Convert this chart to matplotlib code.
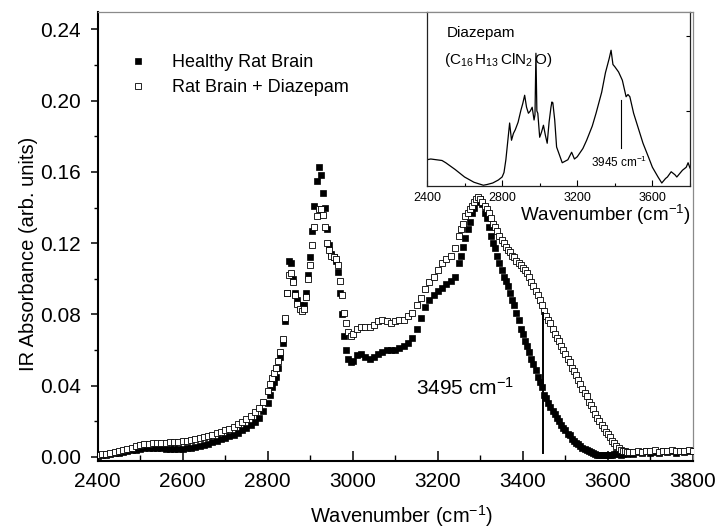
import numpy as np
import matplotlib
matplotlib.use("Agg")
import matplotlib.pyplot as plt
from matplotlib.ticker import MultipleLocator

plt.rcParams['font.family'] = ['Liberation Sans', 'DejaVu Sans']
plt.rcParams['mathtext.fontset'] = 'custom'
plt.rcParams['mathtext.rm'] = 'Liberation Sans'
plt.rcParams['mathtext.it'] = 'Liberation Sans:italic'

# ---------------- data (main) ----------------
wavenumber = np.concatenate([
    np.arange(2400, 2800, 10),   # 40
    np.arange(2800, 3005, 5),    # 41
    np.arange(3010, 3250, 10),   # 24
    np.arange(3250, 3655, 5),    # 81
    np.arange(3660, 3810, 10),   # 15
])

healthy = [
    0.0005, 0.0008, 0.0012, 0.0016, 0.0020, 0.0024, 0.0028, 0.0032, 0.0036, 0.0040,
    0.0043, 0.0047, 0.0050, 0.0052, 0.0052, 0.0050, 0.0046, 0.0043, 0.0042, 0.0042,
    0.0044, 0.0047, 0.0051, 0.0056, 0.0061, 0.0067, 0.0074, 0.0082, 0.0090, 0.0098,
    0.0106, 0.0115, 0.0125, 0.0136, 0.0148, 0.0162, 0.0178, 0.0197, 0.0220, 0.0255,
    # 2800-3000 step 5
    0.030, 0.035, 0.039, 0.042, 0.045, 0.050, 0.056, 0.064, 0.076, 0.092,
    0.110, 0.109, 0.100, 0.092, 0.088, 0.085, 0.084, 0.085, 0.092, 0.102,
    0.112, 0.127, 0.141, 0.155, 0.163, 0.158, 0.148, 0.140, 0.128, 0.119,
    0.114, 0.112, 0.110, 0.104, 0.092, 0.080, 0.068, 0.060, 0.055, 0.053,
    0.054,
    # 3010-3240 step 10
    0.057, 0.058, 0.056, 0.055, 0.056, 0.058, 0.059, 0.060, 0.060, 0.060,
    0.061, 0.062, 0.064, 0.067, 0.072, 0.078, 0.084, 0.088, 0.091, 0.093,
    0.095, 0.097, 0.099, 0.101,
    # 3250-3650 step 5
    0.109, 0.113, 0.118, 0.123, 0.128, 0.132, 0.137, 0.140, 0.143, 0.145,
    0.145, 0.142, 0.137, 0.134, 0.129, 0.124, 0.120, 0.117, 0.113, 0.109,
    0.105, 0.101, 0.099, 0.096, 0.092, 0.088, 0.085, 0.081, 0.077, 0.072,
    0.069, 0.065, 0.062, 0.059, 0.055, 0.052, 0.049, 0.045, 0.042, 0.039,
    0.035, 0.033, 0.030, 0.028, 0.026, 0.024, 0.022, 0.020, 0.018, 0.016,
    0.015, 0.013, 0.012, 0.010, 0.009, 0.008, 0.007, 0.006, 0.005, 0.0045,
    0.0040, 0.0030, 0.0025, 0.0020, 0.0015, 0.0010, 0.0010, 0.0008, 0.0008, 0.0010,
    0.0010, 0.0012, 0.0010, 0.0015, 0.0020, 0.0015, 0.0010, 0.0015, 0.0020, 0.0018,
    0.0022,
    # 3660-3800 step 10
    0.0018, 0.0025, 0.0020, 0.0030, 0.0022, 0.0028, 0.0020, 0.0030, 0.0025, 0.0032,
    0.0022, 0.0030, 0.0025, 0.0035, 0.0030,
]

diazepam = [
    0.0010, 0.0014, 0.0018, 0.0023, 0.0028, 0.0033, 0.0039, 0.0045, 0.0052, 0.0059,
    0.0065, 0.0070, 0.0074, 0.0077, 0.0079, 0.0080, 0.0080, 0.0081, 0.0082, 0.0084,
    0.0087, 0.0090, 0.0094, 0.0099, 0.0104, 0.0110, 0.0117, 0.0124, 0.0132, 0.0140,
    0.0149, 0.0159, 0.0170, 0.0182, 0.0196, 0.0212, 0.0230, 0.0250, 0.0275, 0.0310,
    # 2800-3000 step 5
    0.037, 0.041, 0.044, 0.047, 0.050, 0.054, 0.059, 0.066, 0.078, 0.092,
    0.102, 0.103, 0.098, 0.091, 0.086, 0.083, 0.082, 0.083, 0.090, 0.100,
    0.108, 0.119, 0.129, 0.135, 0.139, 0.139, 0.136, 0.129, 0.120, 0.116,
    0.113, 0.112, 0.111, 0.108, 0.099, 0.091, 0.081, 0.075, 0.070, 0.068,
    0.069,
    # 3010-3240 step 10
    0.072, 0.073, 0.073, 0.073, 0.074, 0.076, 0.077, 0.076, 0.075, 0.076,
    0.077, 0.077, 0.079, 0.081, 0.085, 0.089, 0.094, 0.098, 0.101, 0.105,
    0.109, 0.111, 0.113, 0.117,
    # 3250-3650 step 5
    0.124, 0.128, 0.131, 0.135, 0.137, 0.139, 0.141, 0.143, 0.145, 0.146,
    0.145, 0.143, 0.141, 0.139, 0.137, 0.134, 0.131, 0.129, 0.127, 0.124,
    0.122, 0.120, 0.118, 0.116, 0.115, 0.113, 0.112, 0.110, 0.109, 0.108,
    0.106, 0.105, 0.103, 0.101, 0.098, 0.096, 0.093, 0.091, 0.088, 0.085,
    0.082, 0.079, 0.077, 0.075, 0.072, 0.069, 0.067, 0.065, 0.062, 0.060,
    0.058, 0.055, 0.053, 0.050, 0.048, 0.046, 0.043, 0.041, 0.038, 0.036,
    0.034, 0.031, 0.029, 0.027, 0.024, 0.022, 0.020, 0.018, 0.016, 0.014,
    0.013, 0.011, 0.009, 0.0075, 0.006, 0.005, 0.004, 0.0035, 0.003, 0.0028,
    0.0027,
    # 3660-3800 step 10
    0.0028, 0.0032, 0.0026, 0.0034, 0.0030, 0.0036, 0.0028, 0.0034, 0.0030, 0.0038,
    0.0030, 0.0035, 0.0032, 0.0040, 0.0035,
]

series_labels = ["Healthy Rat Brain", "Rat Brain + Diazepam"]
x_ticks = [2400, 2600, 2800, 3000, 3200, 3400, 3600, 3800]
y_ticks = [0.00, 0.04, 0.08, 0.12, 0.16, 0.20, 0.24]

# ---------------- data (inset: Diazepam) ----------------
inset_wn = [2400, 2420, 2450, 2480, 2500, 2550, 2600, 2650, 2700, 2720, 2750, 2780, 2800,
            2810, 2820, 2840, 2850, 2860, 2870, 2885, 2900, 2910, 2920, 2930, 2940, 2950,
            2960, 2970, 2975, 2980, 2985, 2990, 3000, 3010, 3020, 3030, 3040, 3050, 3060,
            3065, 3070, 3080, 3090, 3100, 3120, 3150, 3170, 3185, 3200, 3230, 3250, 3280,
            3300, 3330, 3350, 3370, 3380, 3390, 3400, 3420, 3440, 3450, 3460, 3470, 3480,
            3500, 3520, 3550, 3580, 3600, 3630, 3650, 3670, 3680, 3700, 3720, 3730, 3760,
            3780, 3790, 3800]
inset_abs = [0.35, 0.36, 0.35, 0.34, 0.31, 0.22, 0.12, 0.05, 0.01, 0.02, 0.04, 0.08, 0.12,
             0.18, 0.35, 0.84, 0.61, 0.70, 0.75, 0.85, 1.01, 1.10, 1.21, 1.05, 0.97, 1.00,
             1.05, 0.88, 0.95, 1.77, 1.00, 0.97, 0.65, 0.72, 0.81, 0.68, 0.57, 0.85, 1.05,
             1.12, 1.11, 0.88, 0.52, 0.45, 0.31, 0.35, 0.45, 0.36, 0.39, 0.50, 0.61, 0.80,
             0.97, 1.25, 1.51, 1.70, 1.81, 1.62, 1.59, 1.52, 1.41, 1.30, 1.19, 1.22, 1.19,
             0.97, 0.81, 0.57, 0.38, 0.25, 0.12, 0.04, 0.10, 0.12, 0.19, 0.15, 0.12, 0.21,
             0.25, 0.31, 0.24]
inset_xticks = [2400, 2800, 3200, 3600]

# ---------------- figure ----------------
fig = plt.figure(figsize=(7.17, 5.29), dpi=100)
ax = fig.add_axes([0.136, 0.129, 0.8305, 0.849])

ax.plot(wavenumber, healthy, linestyle='none', marker='s', markersize=4.6,
        markerfacecolor='black', markeredgecolor='black', markeredgewidth=0.5,
        label=series_labels[0], zorder=3)
ax.plot(wavenumber, diazepam, linestyle='none', marker='s', markersize=4.6,
        markerfacecolor='white', markeredgecolor='black', markeredgewidth=0.6,
        label=series_labels[1], zorder=4)

ax.plot([3447, 3447], [0.002, 0.081], color='black', lw=1.4, zorder=5)
ax.text(3149, 0.0386, r"3495 cm$^{-1}$", fontsize=15, va='center', ha='left')

ax.set_xlim(2400, 3800)
ax.set_ylim(-0.0022, 0.25)
ax.set_xticks(x_ticks)
ax.set_yticks(y_ticks)
ax.set_yticklabels([f"{v:.2f}" for v in y_ticks])
ax.xaxis.set_minor_locator(MultipleLocator(100))
ax.yaxis.set_minor_locator(MultipleLocator(0.02))
ax.tick_params(axis='x', which='major', direction='in', length=7, width=1.1,
               labelsize=15, pad=8, top=False)
ax.tick_params(axis='x', which='minor', direction='in', length=4, width=1.0, top=False)
ax.tick_params(axis='y', which='major', direction='out', length=5, width=1.1,
               labelsize=15, pad=7, right=False)
ax.tick_params(axis='y', which='minor', direction='out', length=3, width=1.0, right=False)

for s in ['left', 'bottom']:
    ax.spines[s].set_linewidth(1.5)
    ax.spines[s].set_color('black')
for s in ['top', 'right']:
    ax.spines[s].set_linewidth(0.9)
    ax.spines[s].set_color('#8a8a8a')

ax.set_xlabel(r"Wavenumber (cm$^{-1}$)", fontsize=14.5)
ax.set_ylabel("IR Absorbance (arb. units)", fontsize=14.5)
ax.xaxis.set_label_coords(0.51, -0.094)
ax.yaxis.set_label_coords(-0.100, 0.46)

leg = ax.legend(loc='upper left', bbox_to_anchor=(0.053, 0.905), frameon=False,
                fontsize=13, handlelength=1.0, handletextpad=1.4, labelspacing=0.45,
                borderpad=0, borderaxespad=0, markerscale=0.8)

# ---------------- inset ----------------
axi = fig.add_axes([0.5955, 0.6484, 0.3668, 0.3289])
axi.plot(inset_wn, inset_abs, color='black', lw=0.9)
axi.plot([3433, 3433], [0.51, 1.15], color='black', lw=0.8)
axi.text(3275, 0.31, r"3945 cm$^{-1}$", fontsize=8.5, va='center', ha='left')
axi.text(2507, 2.04, "Diazepam", fontsize=11, va='center', ha='left')
axi.text(2491, 1.68, r"(C$_{16}\,$H$_{13}\,$ClN$_{2}\,$O)", fontsize=11, va='center', ha='left')
axi.set_xlim(2400, 3800)
axi.set_ylim(0, 2.32)
axi.set_xticks(inset_xticks)
axi.xaxis.set_minor_locator(MultipleLocator(200))
axi.set_yticks([1, 2])
axi.tick_params(axis='x', which='major', direction='in', length=4, width=0.8,
                labelsize=9, pad=4, top=False)
axi.tick_params(axis='x', which='minor', direction='in', length=2, width=0.8, top=False)
axi.tick_params(axis='y', which='both', direction='in', length=3, width=0.8,
                left=False, right=True, labelleft=False, labelright=False)
for s in ['left', 'bottom', 'right']:
    axi.spines[s].set_linewidth(0.9)
    axi.spines[s].set_color('#222222')
axi.spines['top'].set_linewidth(0.9)
axi.spines['top'].set_color('#8a8a8a')
axi.set_xlabel(r"Wavenumber (cm$^{-1}$)", fontsize=13.5)
axi.xaxis.set_label_coords(0.677, -0.10)

fig.savefig("out.png", dpi=100)
